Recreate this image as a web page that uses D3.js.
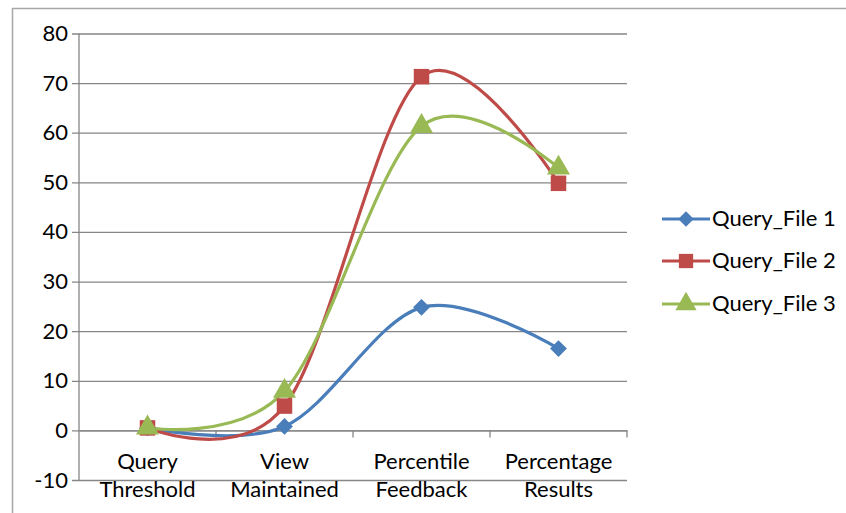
<!DOCTYPE html>
<html><head><meta charset="utf-8">
<script src="https://cdn.jsdelivr.net/npm/d3@7"></script>
<style>body{margin:0;background:#fff}svg{display:block}text{font-family:Lato,"Open Sans",sans-serif}</style>
</head><body>
<svg id="c" width="846" height="513"></svg>
<script>
const categories = [["Query","Threshold"],["View","Maintained"],["Percentile","Feedback"],["Percentage","Results"]];
const seriesNames = ["Query_File 1","Query_File 2","Query_File 3"];
const file1 = [0.5, 0.8, 24.8, 16.5];
const file2 = [0.5, 4.9, 71.3, 49.8];
const file3 = [0.5, 7.9, 61.3, 52.9];
const yTicks = [-10,0,10,20,30,40,50,60,70,80];
const colors = ["#4a7ebb","#be4b48","#98b954"];
const symbols = [d3.symbolDiamond2, d3.symbolSquare, d3.symbolTriangle];
const FS = 22;

const svg = d3.select("#c");
svg.append("line").attr("x1",12).attr("x2",846).attr("y1",8.5).attr("y2",8.5).attr("stroke","#a6a6a6").attr("stroke-width",1.5);
svg.append("line").attr("x1",12.5).attr("x2",12.5).attr("y1",8).attr("y2",513).attr("stroke","#a6a6a6").attr("stroke-width",1.5);

const x0 = 79, x1 = 627;
const y = d3.scaleLinear().domain([-10,80]).range([480,33.5]);
const x = d3.scaleBand().domain(d3.range(categories.length)).range([x0,x1]);
const cx = i => x(i) + x.bandwidth()/2;

const g = svg.append("g");
const yAxis = d3.axisLeft(y).tickValues(yTicks).tickSize(-(x1-x0)).tickPadding(11).tickFormat(d => String(d));
const ya = g.append("g").attr("transform",`translate(${x0},0)`).call(yAxis);
ya.select(".domain").remove();
ya.selectAll(".tick line").attr("stroke","#868686").attr("stroke-width",1.3).attr("x1",-7);
ya.selectAll(".tick text").attr("font-size",FS).attr("fill","#000").attr("font-family","Lato,'Open Sans',sans-serif");
g.append("line").attr("x1",x0).attr("x2",x0).attr("y1",y(80)).attr("y2",y(-10)).attr("stroke","#868686").attr("stroke-width",1.3);
const xa = g.append("g").attr("transform",`translate(0,${y(0)})`)
  .call(d3.axisBottom(x).tickSize(0).tickFormat(""));
xa.select(".domain").attr("stroke","#868686").attr("stroke-width",1.3);
const bounds = d3.range(categories.length+1).map(i => x0 + i*x.bandwidth());
g.selectAll(".xt").data(bounds.slice(1)).join("line")
  .attr("x1",d=>d).attr("x2",d=>d).attr("y1",y(0)).attr("y2",y(0)+7)
  .attr("stroke","#868686").attr("stroke-width",1.3);
categories.forEach((c,i)=>{
  const t = g.append("text").attr("text-anchor","middle").attr("font-size",FS).attr("fill","#000");
  t.append("tspan").attr("x",cx(i)).attr("y",469).text(c[0]);
  t.append("tspan").attr("x",cx(i)).attr("y",497).text(c[1]);
});

const data = [file1,file2,file3];
const line = d3.line().x((d,i)=>cx(i)).y(d=>y(d)).curve(d3.curveCatmullRom.alpha(0));
const markerSize = [180, 240, 230];
data.forEach((s,k)=>{
  g.append("path").attr("d",line(s)).attr("fill","none").attr("stroke",colors[k]).attr("stroke-width",3.2);
});
data.forEach((s,k)=>{
  g.selectAll(".m"+k).data(s).join("path")
    .attr("d",d3.symbol().type(symbols[k]).size(markerSize[k]))
    .attr("transform",(d,i)=>`translate(${cx(i)},${y(d)})`)
    .attr("fill",colors[k]);
});
const leg = svg.append("g");
const ly = [219,261,304];
seriesNames.forEach((n,k)=>{
  leg.append("line").attr("x1",662).attr("x2",710).attr("y1",ly[k]).attr("y2",ly[k]).attr("stroke",colors[k]).attr("stroke-width",3.2);
  leg.append("path").attr("d",d3.symbol().type(symbols[k]).size(markerSize[k]*0.85)).attr("transform",`translate(686,${ly[k]})`).attr("fill",colors[k]);
  leg.append("text").attr("x",712).attr("y",ly[k]+7).attr("font-size",FS).attr("fill","#000").text(n);
});
</script>
</body></html>
